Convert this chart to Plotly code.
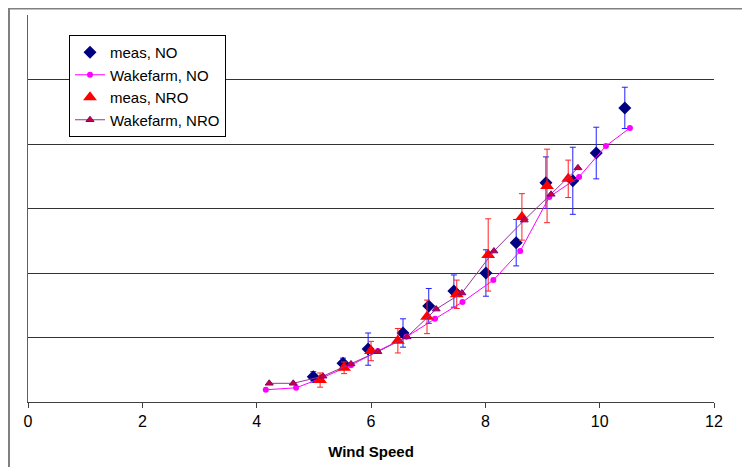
import plotly.graph_objects as go

# Measured NO
meas_no_x = [4.99, 5.51, 5.95, 6.56, 7.01, 7.45, 8.01, 8.54, 9.06, 9.53, 9.94, 10.44]
meas_no_y = [0.39, 0.60, 0.82, 1.07, 1.49, 1.72, 2.00, 2.47, 3.40, 3.43, 3.86, 4.56]
meas_no_err = [0.08, 0.08, 0.25, 0.22, 0.27, 0.25, 0.36, 0.36, 0.40, 0.52, 0.40, 0.32]

# Wakefarm NO
wf_no_x = [4.16, 4.69, 5.13, 5.65, 6.12, 6.62, 7.12, 7.60, 8.14, 8.61, 9.12, 9.64, 10.11, 10.53]
wf_no_y = [0.19, 0.22, 0.37, 0.57, 0.79, 1.01, 1.29, 1.55, 1.89, 2.34, 3.18, 3.49, 3.97, 4.25]

# Measured NRO
meas_nro_x = [5.11, 5.53, 6.00, 6.47, 6.98, 7.50, 8.05, 8.64, 9.08, 9.45]
meas_nro_y = [0.34, 0.53, 0.79, 0.95, 1.32, 1.67, 2.28, 2.87, 3.35, 3.46]
meas_nro_err = [0.11, 0.09, 0.15, 0.19, 0.26, 0.22, 0.56, 0.36, 0.57, 0.29]

# Wakefarm NRO
wf_nro_x = [4.22, 4.64, 5.16, 5.65, 6.12, 6.63, 7.14, 7.59, 8.15, 8.68, 9.15, 9.62]
wf_nro_y = [0.29, 0.29, 0.40, 0.59, 0.78, 1.01, 1.44, 1.69, 2.34, 2.82, 3.22, 3.63]

x_ticks = [0, 2, 4, 6, 8, 10, 12]

FONT = "Liberation Sans, Arial, sans-serif"

PW, PH = 686, 387  # plot area size in px

fig = go.Figure()

fig.add_trace(go.Scatter(
    x=meas_no_x, y=meas_no_y, mode="markers", name="meas, NO",
    marker=dict(symbol="diamond", size=10, color="#000080"),
    error_y=dict(type="data", array=meas_no_err, color="#2020ff", thickness=1, width=3),
))
fig.add_trace(go.Scatter(
    x=wf_no_x, y=wf_no_y, mode="lines+markers", name="Wakefarm, NO",
    line=dict(color="#ff00ff", width=1),
    marker=dict(symbol="circle", size=6, color="#ff00ff"),
))
fig.add_trace(go.Scatter(
    x=meas_nro_x, y=meas_nro_y, mode="markers", name="meas, NRO",
    marker=dict(symbol="triangle-up", size=12, color="#ff0000"),
    error_y=dict(type="data", array=meas_nro_err, color="#ff2020", thickness=1, width=3),
))
fig.add_trace(go.Scatter(
    x=wf_nro_x, y=wf_nro_y, mode="lines+markers", name="Wakefarm, NRO",
    line=dict(color="#993399", width=1),
    marker=dict(symbol="triangle-up", size=7, color="#cc0033",
                line=dict(color="#800080", width=1)),
))

fig.update_layout(
    width=750, height=467,
    margin=dict(l=20, r=44, t=7, b=73),
    paper_bgcolor="white", plot_bgcolor="white",
    font=dict(family=FONT, size=16, color="black"),
    showlegend=True,
    legend=dict(
        x=(69 - 28) / PW, y=(402 - 35) / PH, xanchor="left", yanchor="top",
        bgcolor="white", bordercolor="black", borderwidth=1,
        font=dict(family=FONT, size=15, color="black"),
        tracegroupgap=0,
    ),
    xaxis=dict(
        range=[0, 12], tickvals=x_ticks, ticktext=[str(v) for v in x_ticks],
        showgrid=False, zeroline=False,
        showline=True, linecolor="#404040", linewidth=1,
        ticks="outside", ticklen=5, tickcolor="#404040",
        tickfont=dict(family=FONT, size=16, color="black"),
        title=dict(text="<b>Wind Speed</b>", font=dict(family=FONT, size=15, color="black"), standoff=17),
    ),
    yaxis=dict(
        range=[0, 6], dtick=1, showticklabels=False,
        showgrid=True, gridcolor="#333333", gridwidth=1,
        zeroline=False, showline=True, linecolor="#606060", linewidth=1,
        ticks="",
    ),
    shapes=[
        dict(type="rect", xref="paper", yref="paper",
             x0=-19 / PW, x1=1.2, y0=-0.3, y1=1 + 6.5 / PH,
             line=dict(color="#808080", width=2), fillcolor="rgba(0,0,0,0)", layer="below"),
    ],
)

fig.write_html("out.html")
